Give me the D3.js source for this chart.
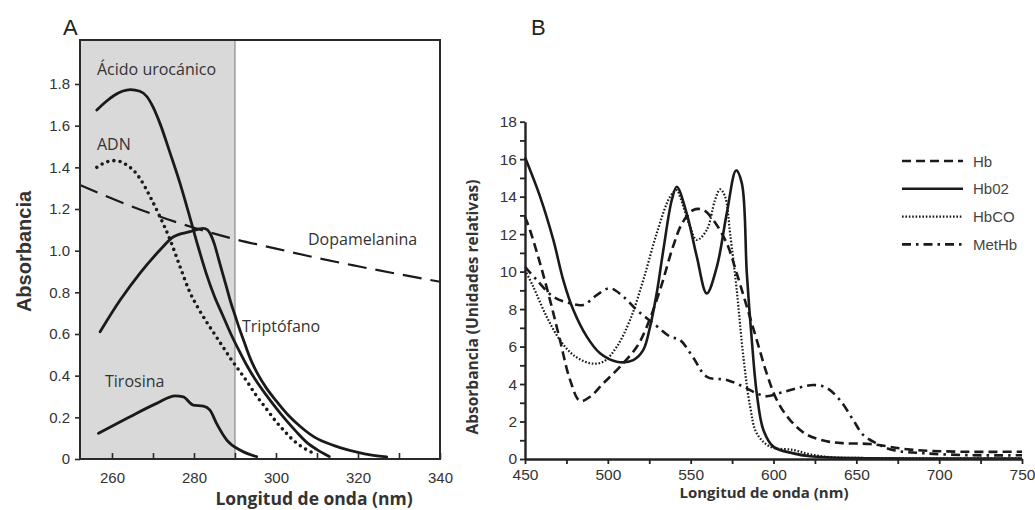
<!DOCTYPE html>
<html>
<head>
<meta charset="utf-8">
<script src="https://cdn.jsdelivr.net/npm/d3@7/dist/d3.min.js"></script>
<style>
  body { margin: 0; background: #fff; }
  svg { display: block; }
</style>
</head>
<body>
<div id="chart"></div>
<script>
// ---- panel A: [wavelength nm, absorbance] ----
const acidoUrocanico = [[256.3,1.675],[258.5,1.715],[260.5,1.745],[262.5,1.765],[264.5,1.773],[266.8,1.765],[268.5,1.74],[270,1.69],[271.7,1.611],[274.2,1.467],[276.6,1.323],[279,1.16],[281,1.02],[283,0.89],[285,0.78],[287,0.69],[289,0.60],[291,0.52],[293,0.445],[295,0.38],[297.5,0.31],[300,0.245],[302.5,0.185],[305,0.13],[307.5,0.08],[310,0.045],[313,0.012]];
const adn = [[256.3,1.40],[258,1.42],[260.3,1.432],[262,1.428],[263.6,1.411],[265.5,1.38],[266.8,1.347],[269.3,1.259],[271.7,1.163],[274.2,1.051],[276.6,0.923],[279,0.80],[281,0.725],[283,0.66],[285,0.60],[287,0.54],[289,0.48],[291,0.425],[293,0.37],[295,0.31],[297.5,0.245],[300,0.18],[302,0.135],[304.5,0.085],[307,0.05],[309.5,0.025]];
const triptofano = [[257.1,0.611],[262,0.763],[266.8,0.891],[271.7,1.003],[275,1.067],[279,1.091],[282.3,1.107],[283.3,1.10],[284,1.08],[285,1.03],[286,0.96],[287,0.89],[288,0.82],[289,0.75],[290,0.69],[291,0.63],[292,0.575],[293,0.52],[294,0.47],[295.5,0.41],[297.5,0.345],[300,0.28],[303,0.21],[306,0.155],[309,0.11],[312,0.08],[315.6,0.055],[320,0.032],[323,0.02],[327,0.01]];
const tirosina = [[256.7,0.123],[264.4,0.203],[270.9,0.267],[275.4,0.303],[277.4,0.298],[279.8,0.259],[282.3,0.254],[283.9,0.235],[285.5,0.171],[288,0.091],[291.2,0.043],[295.3,0.011]];
const dopamelanina = [[252.2,1.315],[260,1.25],[270,1.175],[280,1.11],[290,1.055],[300,1.01],[310,0.965],[320,0.925],[330,0.887],[340,0.851]];
const xTicksA = [260, 270, 280, 290, 300, 310, 320, 330, 340];
const xLabelsA = [260, 280, 300, 320, 340];
const yTicksA = [0, 0.2, 0.4, 0.6, 0.8, 1.0, 1.2, 1.4, 1.6, 1.8];
const shadeEndA = 290;

// ---- panel B: [wavelength nm, relative absorbance] ----
const hb = [[450,12.93],[453,12.22],[459.1,10.44],[465.1,8.48],[471.1,6.35],[477.2,4.22],[483.2,3.1],[489.3,3.32],[497.3,4.04],[507.4,4.93],[517.5,5.99],[523.5,7.06],[531.5,9.02],[539.6,11.4],[545,12.6],[551.6,13.29],[557.7,13.29],[563.7,12.75],[571.8,11.51],[577.8,9.91],[583.9,8.13],[589.9,6.35],[595.9,4.57],[602,3.15],[610,2.08],[620.1,1.3],[632,0.95],[642.2,0.84],[658.3,0.8],[682.5,0.5],[712.7,0.39],[750,0.39]];
const hbO2 = [[450,16.1],[459.1,14.0],[467.1,11.69],[473.1,9.55],[479.2,7.95],[487.3,6.53],[495.3,5.64],[505.4,5.19],[515.4,5.28],[521.4,5.82],[525.5,7.06],[529.5,8.84],[533.5,11.15],[538.6,13.82],[541.6,14.53],[547.6,13.11],[553.7,10.8],[559.7,8.84],[565.8,10.26],[571.8,13.11],[577.4,15.4],[580.9,14.71],[583.9,9.91],[586.9,6.35],[589.9,3.5],[593.9,1.55],[599.9,0.66],[612,0.30],[622.1,0.15],[650,0.05],[700,0.03],[750,0.03]];
const hbCO = [[450,10.09],[455,9.19],[463.1,7.59],[471.1,6.35],[479.2,5.55],[489.3,5.11],[497.3,5.19],[505.4,5.99],[513.4,7.42],[521.4,9.55],[529.5,12.04],[537.6,14.0],[541.6,14.35],[543.6,14.0],[549.6,12.4],[553.7,11.69],[559.7,12.22],[564.7,13.82],[567.8,14.39],[570.8,14.0],[573.8,12.04],[577.8,9.02],[581.8,5.46],[585.9,2.79],[589.9,1.37],[597.9,0.66],[612,0.48],[622.1,0.25],[634,0.1],[660,0.05],[750,0.03]];
const metHb = [[450,10.26],[457.1,9.55],[467.1,8.66],[477.2,8.31],[485.2,8.22],[493.3,8.75],[501.3,9.11],[509.4,8.66],[517.5,7.95],[527.5,7.24],[537.6,6.53],[543.6,6.35],[551.6,5.4],[559.7,4.39],[571.8,4.22],[581.8,3.86],[590,3.5],[596,3.35],[605,3.55],[615,3.8],[624,3.95],[632,3.8],[640,3.15],[648,2.1],[654,1.3],[662,0.84],[672,0.48],[692,0.3],[720,0.2],[750,0.2]];
const xTicksB = [450, 475, 500, 525, 550, 575, 600, 625, 650, 675, 700, 725, 750];
const xLabelsB = [450, 500, 550, 600, 650, 700, 750];
const yTicksB = d3.range(0, 19, 1);
const yLabelsB = [0, 2, 4, 6, 8, 10, 12, 14, 16, 18];
const legendNames = ['Hb', 'Hb02', 'HbCO', 'MetHb'];

const ink = '#1a1a1a';
const textColor = '#333333';
const tickFont = '"Liberation Sans", Arial, sans-serif';
const labelFont = '"Open Sans", sans-serif';

const svg = d3.select('#chart').append('svg')
  .attr('width', 1035)
  .attr('height', 510);

/* ===================== panel A ===================== */
const boxA = {left: 80, right: 440, top: 40, bottom: 459};
const xA = d3.scaleLinear().domain([252.2, 340]).range([boxA.left, boxA.right]);
const yA = d3.scaleLinear().domain([0, 1.8]).range([boxA.bottom, 84]);

const gA = svg.append('g').attr('class', 'panel-a');

gA.append('rect')
  .attr('x', boxA.left)
  .attr('y', boxA.top)
  .attr('width', xA(shadeEndA) - boxA.left)
  .attr('height', boxA.bottom - boxA.top)
  .attr('fill', '#d9d9d9');
gA.append('line')
  .attr('x1', xA(shadeEndA)).attr('x2', xA(shadeEndA))
  .attr('y1', boxA.top).attr('y2', boxA.bottom)
  .attr('stroke', '#8a8a8a').attr('stroke-width', 1.2);

const lineA = d3.line()
  .x(d => xA(d[0]))
  .y(d => yA(d[1]))
  .curve(d3.curveMonotoneX);

const seriesA = [
  {data: dopamelanina, dash: '19,9', width: 2.2, cap: 'butt'},
  {data: adn, dash: '0,6.2', width: 3.6, cap: 'round'},
  {data: acidoUrocanico, dash: null, width: 2.8, cap: 'round'},
  {data: triptofano, dash: null, width: 2.8, cap: 'round'},
  {data: tirosina, dash: null, width: 2.8, cap: 'round'}
];
seriesA.forEach(s => {
  gA.append('path')
    .datum(s.data)
    .attr('fill', 'none')
    .attr('stroke', ink)
    .attr('stroke-width', s.width)
    .attr('stroke-linecap', s.cap)
    .attr('stroke-dasharray', s.dash)
    .attr('d', lineA);
});

// frame
gA.append('rect')
  .attr('x', boxA.left).attr('y', boxA.top)
  .attr('width', boxA.right - boxA.left)
  .attr('height', boxA.bottom - boxA.top)
  .attr('fill', 'none')
  .attr('stroke', '#2a2a2a')
  .attr('stroke-width', 2);

const xAxisA = gA.append('g')
  .attr('transform', `translate(0,${boxA.bottom})`)
  .call(d3.axisBottom(xA).tickValues(xTicksA).tickSize(-6)
    .tickFormat(d => xLabelsA.includes(d) ? d : ''));
const yAxisA = gA.append('g')
  .attr('transform', `translate(${boxA.left},0)`)
  .call(d3.axisLeft(yA).tickValues(yTicksA).tickSize(5)
    .tickFormat(d => d === 0 ? '0' : d3.format('.1f')(d)));

[xAxisA, yAxisA].forEach(ax => {
  ax.select('.domain').remove();
  ax.selectAll('line').attr('stroke', '#2a2a2a').attr('stroke-width', 1.6);
  ax.selectAll('text')
    .attr('fill', textColor)
    .style('font-family', tickFont)
    .style('font-size', '15px');
});
xAxisA.selectAll('text').attr('dy', null).attr('y', 24);
yAxisA.selectAll('text').attr('x', -10);

gA.append('text')
  .attr('transform', `translate(31,${(boxA.top + boxA.bottom) / 2 + 2}) rotate(-90)`)
  .attr('text-anchor', 'middle')
  .attr('fill', textColor)
  .style('font-family', tickFont)
  .style('font-weight', 'bold')
  .style('font-size', '20px')
  .text('Absorbancia');

gA.append('text')
  .attr('x', 314).attr('y', 505)
  .attr('text-anchor', 'middle')
  .attr('fill', textColor)
  .style('font-family', labelFont)
  .style('font-weight', 'bold')
  .style('font-size', '17.5px')
  .text('Longitud de onda (nm)');

const annotationsA = [
  {text: 'Ácido urocánico', x: 97, y: 75},
  {text: 'ADN', x: 97, y: 150},
  {text: 'Dopamelanina', x: 308, y: 245},
  {text: 'Triptófano', x: 242, y: 332},
  {text: 'Tirosina', x: 105, y: 387}
];
gA.selectAll('.annot')
  .data(annotationsA)
  .join('text')
  .attr('class', 'annot')
  .attr('x', d => d.x).attr('y', d => d.y)
  .attr('fill', textColor)
  .style('font-family', labelFont)
  .style('font-size', '16px')
  .text(d => d.text);

svg.append('text')
  .attr('x', 63).attr('y', 35)
  .attr('fill', '#222')
  .style('font-family', tickFont)
  .style('font-size', '22px')
  .text('A');

/* ===================== panel B ===================== */
const boxB = {left: 525, right: 1022, bottom: 459};
const xB = d3.scaleLinear().domain([450, 750]).range([boxB.left, boxB.right]);
const yB = d3.scaleLinear().domain([0, 18]).range([boxB.bottom, 121.7]);

const gB = svg.append('g').attr('class', 'panel-b');

const lineB = d3.line()
  .x(d => xB(d[0]))
  .y(d => yB(d[1]))
  .curve(d3.curveCatmullRom.alpha(0.5));

const seriesB = [
  {name: 'MetHb', data: metHb, dash: '9,5,2.5,5', width: 2.6},
  {name: 'Hb', data: hb, dash: '9,5', width: 2.6},
  {name: 'HbCO', data: hbCO, dash: '1.6,1.8', width: 2.2},
  {name: 'Hb02', data: hbO2, dash: null, width: 2.6}
];
seriesB.forEach(s => {
  gB.append('path')
    .datum(s.data)
    .attr('fill', 'none')
    .attr('stroke', ink)
    .attr('stroke-width', s.width)
    .attr('stroke-dasharray', s.dash)
    .attr('d', lineB);
});

const xAxisB = gB.append('g')
  .attr('transform', `translate(0,${boxB.bottom})`)
  .call(d3.axisBottom(xB).tickValues(xTicksB).tickSize(5).tickSizeOuter(0)
    .tickFormat(d => xLabelsB.includes(d) ? d : ''));
const yAxisB = gB.append('g')
  .attr('transform', `translate(${boxB.left},0)`)
  .call(d3.axisLeft(yB).tickValues(yTicksB).tickSize(5).tickSizeOuter(0)
    .tickFormat(d => yLabelsB.includes(d) ? d : ''));

[xAxisB, yAxisB].forEach(ax => {
  ax.select('.domain').attr('stroke', '#222').attr('stroke-width', 2.4);
  ax.selectAll('line').attr('stroke', '#222').attr('stroke-width', 1.8);
  ax.selectAll('text')
    .attr('fill', textColor)
    .style('font-family', tickFont)
    .style('font-size', '15.5px');
});
xAxisB.selectAll('text').attr('dy', null).attr('y', 21);
yAxisB.selectAll('text').attr('x', -8);

gB.append('text')
  .attr('transform', `translate(478,307) rotate(-90)`)
  .attr('text-anchor', 'middle')
  .attr('fill', textColor)
  .style('font-family', labelFont)
  .style('font-weight', 'bold')
  .style('font-size', '15.5px')
  .text('Absorbancia (Unidades relativas)');

gB.append('text')
  .attr('x', 764).attr('y', 498)
  .attr('text-anchor', 'middle')
  .attr('fill', textColor)
  .style('font-family', labelFont)
  .style('font-weight', 'bold')
  .style('font-size', '15px')
  .text('Longitud de onda (nm)');

// legend
const legendStyles = {
  'Hb': seriesB[1], 'Hb02': seriesB[3], 'HbCO': seriesB[2], 'MetHb': seriesB[0]
};
const legend = gB.append('g').attr('transform', 'translate(902,161)');
legendNames.forEach((name, i) => {
  const s = legendStyles[name];
  const row = legend.append('g').attr('transform', `translate(0,${i * 27.8})`);
  row.append('line')
    .attr('x1', 0).attr('x2', 61)
    .attr('stroke', ink)
    .attr('stroke-width', s.width)
    .attr('stroke-dasharray', s.dash);
  row.append('text')
    .attr('x', 71).attr('y', 5.5)
    .attr('fill', '#444')
    .style('font-family', tickFont)
    .style('font-size', '15px')
    .text(name);
});

svg.append('text')
  .attr('x', 531).attr('y', 35)
  .attr('fill', '#222')
  .style('font-family', tickFont)
  .style('font-size', '22px')
  .text('B');
</script>
</body>
</html>
